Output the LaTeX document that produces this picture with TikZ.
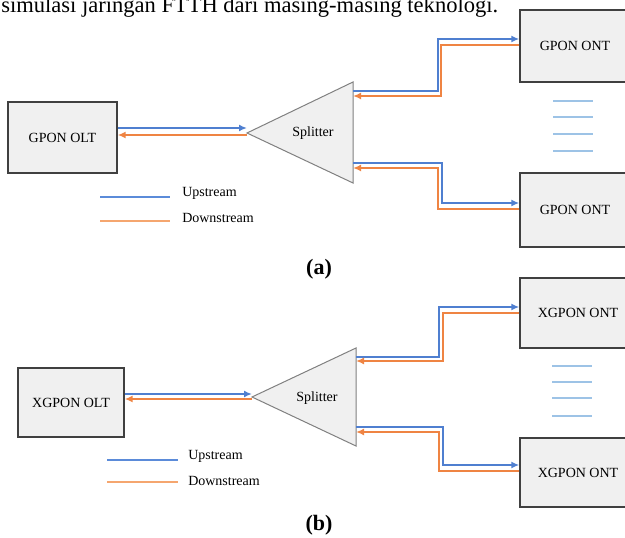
\documentclass[tikz,border=0pt]{standalone}
\usepackage{fontspec}
\setmainfont{Liberation Serif}
\usetikzlibrary{arrows.meta}
\definecolor{upblue}{HTML}{4F7FD0}
\definecolor{dnorange}{HTML}{EF8443}
\definecolor{legblue}{HTML}{5B8BD9}
\definecolor{legorange}{HTML}{F5A66F}
\definecolor{dashblue}{HTML}{9DC3E6}
\definecolor{boxfill}{HTML}{F0F0F0}
\tikzset{
  box/.style={draw=black!75, fill=boxfill, line width=1pt, inner sep=0pt,
    font=\fontsize{10.5pt}{12pt}\selectfont},
  splitbox/.style={draw=black!50, fill=boxfill, line width=0.75pt},
  lbl/.style={inner sep=0pt, font=\fontsize{10.5pt}{12pt}\selectfont},
  upln/.style={draw=upblue, line width=1.2pt, -{Latex[length=6pt,width=5.2pt]}},
  dnln/.style={draw=dnorange, line width=1.2pt, -{Latex[length=6pt,width=5.2pt]}},
  legup/.style={draw=legblue, line width=1.1pt},
  legdn/.style={draw=legorange, line width=1.1pt},
  dashln/.style={draw=dashblue, line width=1.1pt},
  caption/.style={inner sep=0pt, font=\fontsize{16.5pt}{18pt}\selectfont\bfseries},
}
\begin{document}
\begin{tikzpicture}[x=0.75pt, y=-0.75pt]
\clip (0,0) rectangle (625,538);
\fill[white] (0,0) rectangle (625,538);

% top text line (cut off)
\node[anchor=base west, inner sep=0pt, font=\fontsize{16.9pt}{18pt}\selectfont] (toptext) at (1,13) {simulasi jaringan FTTH dari masing-masing teknologi.};

% ================= (a) =================
\node[box, minimum width=81.75pt, minimum height=53.25pt] (olta) at (62.5,137.5) {GPON OLT};
\node[box, minimum width=82.5pt, minimum height=54pt] (onta1) at (575,46) {GPON ONT};
\node[box, minimum width=82.5pt, minimum height=55.5pt] (onta2) at (575,210) {GPON ONT};
\coordinate (spa) at (247,133);
\coordinate (spat) at (353,82);
\coordinate (spab) at (353,183);
\draw[splitbox] (spa) -- (spat) -- (spab) -- cycle;
\node[lbl] (spalbl) at (313,133) {Splitter};

\draw[upln] (olta.east |- 0,128) -- (spa |- 0,128);
\draw[dnln] (spa |- 0,135) -- (olta.east |- 0,135);

\draw[upln] (spat |- 0,91) -- (438,91) -- (438,39) -- (onta1.west |- 0,39);
\draw[dnln] (onta1.west |- 0,45) -- (441,45) -- (441,96) -- (spat |- 0,96);
\draw[upln] (spab |- 0,163) -- (442,163) -- (442,203) -- (onta2.west |- 0,203);
\draw[dnln] (onta2.west |- 0,209) -- (438,209) -- (438,168) -- (spab |- 0,168);

\foreach \yy in {101,117,134,151} \draw[dashln] (553,\yy) -- (593,\yy);

\coordinate (lua1) at (100,197); \coordinate (lua2) at (170,197);
\coordinate (lda1) at (100,221); \coordinate (lda2) at (170,221);
\draw[legup] (lua1) -- (lua2);
\draw[legdn] (lda1) -- (lda2);
\node[lbl, anchor=west] (upa) at (182,193) {Upstream};
\node[lbl, anchor=west] (dna) at (182,218) {Downstream};

\node[caption] (capa) at (319,269) {(a)};

% ================= (b) =================
\node[box, minimum width=79.5pt, minimum height=51.75pt] (oltb) at (71,402.5) {XGPON OLT};
\node[box, minimum width=87pt, minimum height=52.5pt] (ontb1) at (578,313) {XGPON ONT};
\node[box, minimum width=87pt, minimum height=51.75pt] (ontb2) at (578,472.5) {XGPON ONT};
\coordinate (spb) at (252,397);
\coordinate (spbt) at (356,348);
\coordinate (spbb) at (356,446);
\draw[splitbox] (spb) -- (spbt) -- (spbb) -- cycle;
\node[lbl] (spblbl) at (317,398) {Splitter};

\draw[upln] (oltb.east |- 0,394) -- (spb |- 0,394);
\draw[dnln] (spb |- 0,399) -- (oltb.east |- 0,399);

\draw[upln] (spbt |- 0,357) -- (439,357) -- (439,307) -- (ontb1.west |- 0,307);
\draw[dnln] (ontb1.west |- 0,313) -- (443,313) -- (443,361) -- (spbt |- 0,361);
\draw[upln] (spbb |- 0,427) -- (443,427) -- (443,465) -- (ontb2.west |- 0,465);
\draw[dnln] (ontb2.west |- 0,471) -- (439,471) -- (439,432) -- (spbb |- 0,432);

\foreach \yy in {366,382,398,416} \draw[dashln] (552,\yy) -- (592,\yy);

\coordinate (lub1) at (107,460); \coordinate (lub2) at (178,460);
\coordinate (ldb1) at (107,482); \coordinate (ldb2) at (178,482);
\draw[legup] (lub1) -- (lub2);
\draw[legdn] (ldb1) -- (ldb2);
\node[lbl, anchor=west] (upb) at (188,456) {Upstream};
\node[lbl, anchor=west] (dnb) at (188,481) {Downstream};

\node[caption] (capb) at (319,525) {(b)};
\end{tikzpicture}
\end{document}
